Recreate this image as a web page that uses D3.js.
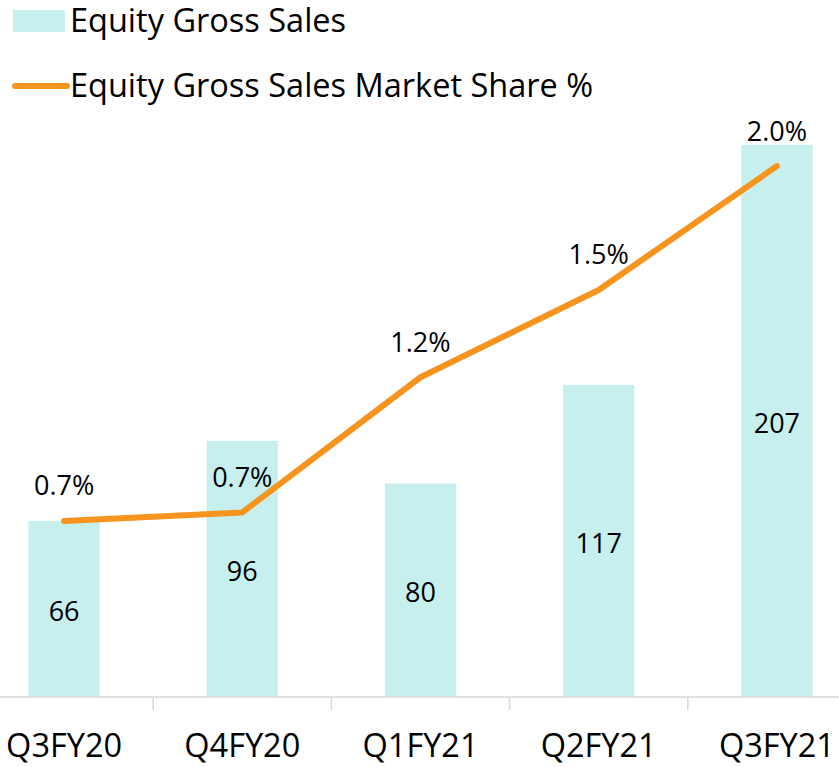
<!DOCTYPE html>
<html>
<head>
<meta charset="utf-8">
<script src="https://cdn.jsdelivr.net/npm/d3@7"></script>
<style>
  body { margin: 0; background: #fff; }
  text { font-family: "Open Sans", sans-serif; fill: #000; }
</style>
</head>
<body>
<div id="viz"></div>
<script>
const quarters = ['Q3FY20', 'Q4FY20', 'Q1FY21', 'Q2FY21', 'Q3FY21'];
const grossSales = [66, 96, 80, 117, 207];
const marketShare = [0.70, 0.73, 1.21, 1.52, 1.96];

const width = 839;
const height = 767;
const barColor = '#c6efee';
const lineColor = '#f7941d';

const svg = d3.select('#viz').append('svg')
  .attr('width', width)
  .attr('height', height);

// plot area runs a bit past both edges, like the cropped original
const xScale = d3.scaleBand()
  .domain(quarters)
  .range([-25, 866])
  .paddingInner(0.6)
  .paddingOuter(0.3);

const xSlots = d3.scaleBand()
  .domain(quarters)
  .range([-25, 866]);

const yScale = d3.scaleLinear()
  .domain([0, 250])
  .range([697, 30]);

const y2Scale = d3.scaleLinear()
  .domain([0, 2.5])
  .range([718, 14]);

const data = quarters.map((q, i) => ({ q, sales: grossSales[i], share: marketShare[i] }));

// bars
svg.selectAll('rect.bar')
  .data(data)
  .enter()
  .append('rect')
  .attr('class', 'bar')
  .attr('x', d => xScale(d.q))
  .attr('width', xScale.bandwidth())
  .attr('y', d => yScale(d.sales))
  .attr('height', d => yScale(0) - yScale(d.sales))
  .attr('fill', barColor);

svg.selectAll('text.bar-label')
  .data(data)
  .enter()
  .append('text')
  .attr('class', 'bar-label')
  .attr('x', d => xScale(d.q) + xScale.bandwidth() / 2)
  .attr('y', d => (yScale(d.sales) + yScale(0)) / 2)
  .attr('dy', '0.45em')
  .attr('text-anchor', 'middle')
  .style('font-size', '27px')
  .text(d => d.sales);

// x axis: line, boundary ticks, labels
svg.append('line')
  .attr('x1', 0)
  .attr('x2', width)
  .attr('y1', yScale(0))
  .attr('y2', yScale(0))
  .attr('stroke', '#d9d9d9')
  .attr('stroke-width', 1.5);

svg.selectAll('line.tick-mark')
  .data(quarters.slice(1))
  .enter()
  .append('line')
  .attr('class', 'tick-mark')
  .attr('x1', d => xSlots(d))
  .attr('x2', d => xSlots(d))
  .attr('y1', yScale(0))
  .attr('y2', yScale(0) + 13)
  .attr('stroke', '#d9d9d9')
  .attr('stroke-width', 1.5);

const xAxis = svg.append('g')
  .attr('transform', `translate(0,${yScale(0)})`)
  .call(d3.axisBottom(xScale).tickSize(0).tickPadding(37));
xAxis.select('.domain').remove();
xAxis.selectAll('text')
  .style('font-family', '"Open Sans", sans-serif')
  .style('font-size', '32.5px')
  .attr('fill', '#000');

// market share line
const line = d3.line()
  .x(d => xScale(d.q) + xScale.bandwidth() / 2)
  .y(d => y2Scale(d.share));

svg.append('path')
  .datum(data)
  .attr('fill', 'none')
  .attr('stroke', lineColor)
  .attr('stroke-width', 6)
  .attr('stroke-linecap', 'round')
  .attr('stroke-linejoin', 'round')
  .attr('d', line);

svg.selectAll('text.share-label')
  .data(data)
  .enter()
  .append('text')
  .attr('class', 'share-label')
  .attr('x', d => xScale(d.q) + xScale.bandwidth() / 2)
  .attr('y', d => y2Scale(d.share) - 35)
  .attr('dy', '0.35em')
  .attr('text-anchor', 'middle')
  .style('font-size', '27px')
  .text(d => d3.format('.1f')(d.share) + '%');

// legend
const legend = svg.append('g');

legend.append('rect')
  .attr('x', 13)
  .attr('y', 10)
  .attr('width', 52)
  .attr('height', 22)
  .attr('fill', barColor);

legend.append('text')
  .attr('x', 70)
  .attr('y', 32)
  .style('font-size', '32.5px')
  .text('Equity Gross Sales');

legend.append('line')
  .attr('x1', 15)
  .attr('x2', 67)
  .attr('y1', 86)
  .attr('y2', 86)
  .attr('stroke', lineColor)
  .attr('stroke-width', 6)
  .attr('stroke-linecap', 'round');

legend.append('text')
  .attr('x', 70)
  .attr('y', 97)
  .style('font-size', '32.5px')
  .text('Equity Gross Sales Market Share %');
</script>
</body>
</html>
